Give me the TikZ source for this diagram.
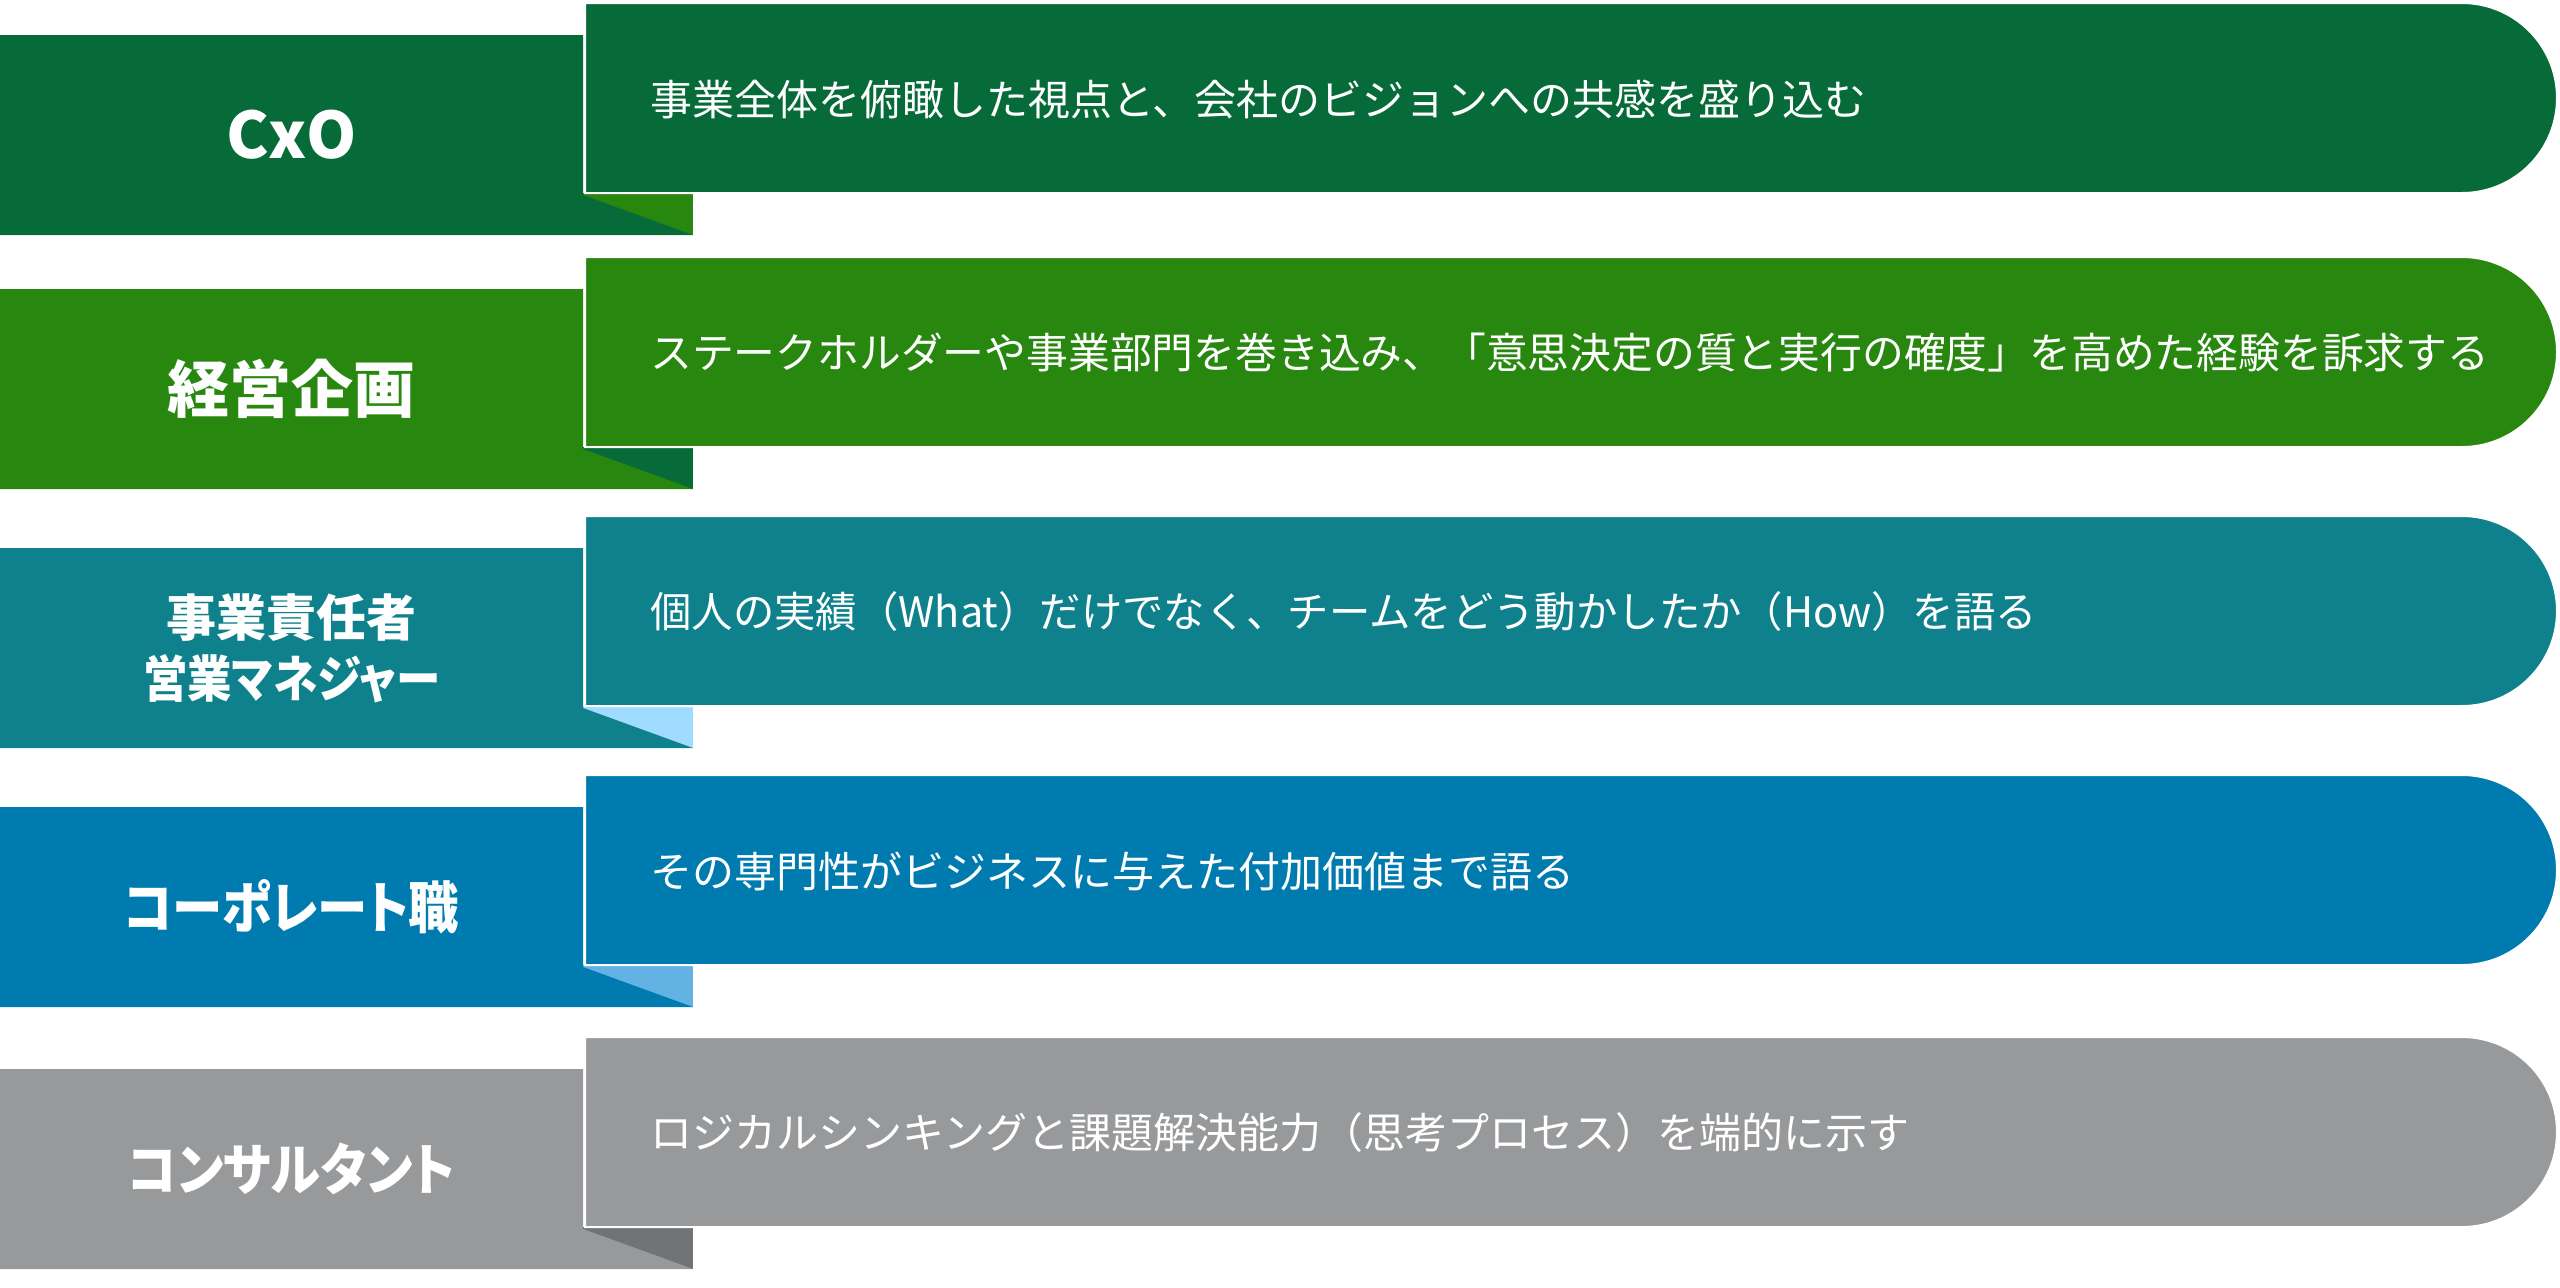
\documentclass[tikz,border=0pt]{standalone}
\usepackage{fontspec}
\setmainfont{Noto Sans CJK JP}
\newfontfamily\jplabel[RawFeature=+palt]{Noto Sans CJK JP}
\definecolor{cA}{HTML}{066B38}
\definecolor{cB}{HTML}{28870E}
\definecolor{cC}{HTML}{0F818C}
\definecolor{fC}{HTML}{A0DCFF}
\definecolor{cD}{HTML}{007BB0}
\definecolor{fD}{HTML}{62B3E3}
\definecolor{cE}{HTML}{98999B}
\definecolor{fE}{HTML}{717477}
\tikzset{
  bodytext/.style={anchor=west, text=white, font=\fontsize{21pt}{25pt}\selectfont, inner sep=0pt},
  labeltext/.style={text=white, align=center, inner sep=0pt},
}
% #1 top y, #2 main colour, #3 fold colour, #4 name
\newcommand{\ribbonrow}[4]{%
  \fill[#3] (583,#1+190) rectangle (693,#1+232);
  \fill[#2] (0,#1+32) -- (583,#1+32) -- (583,#1+192) -- (693,#1+232) -- (0,#1+232) -- cycle;
  \path[fill=#2, draw=white, line width=1pt] (585,#1) -- (2462,#1) arc[start angle=-90, end angle=90, radius=95] -- (585,#1+190) -- cycle;
  \coordinate (#4lab) at (291.5,#1+132);
  \coordinate (#4txt) at (650,#1+96);
}
\begin{document}
\begin{tikzpicture}[x=0.5pt,y=-0.5pt]
\useasboundingbox (0,0) rectangle (2560,1287);
\ribbonrow{3}{cA}{cB}{r1}
\ribbonrow{257}{cB}{cA}{r2}
\ribbonrow{516}{cC}{fC}{r3}
\ribbonrow{775}{cD}{fD}{r4}
\ribbonrow{1037}{cE}{fE}{r5}

\node[labeltext, font=\fontsize{32pt}{36pt}\selectfont\bfseries] (l1) at (r1lab) {CxO};
\node[labeltext, font=\jplabel\fontsize{31pt}{36pt}\selectfont\bfseries] (l2) at (r2lab) {経営企画};
\node[labeltext, font=\jplabel\fontsize{25pt}{30.5pt}\selectfont\bfseries] (l3) at (r3lab) {事業責任者\\\scalebox{0.89}[1]{営業マネジャー}};
\node[labeltext, font=\jplabel\fontsize{28pt}{34pt}\selectfont\bfseries] (l4) at (r4lab) {\scalebox{0.9}[1]{コーポレート職}};
\node[labeltext, font=\jplabel\fontsize{28pt}{34pt}\selectfont\bfseries] (l5) at (r5lab) {\scalebox{0.9}[1]{コンサルタント}};

\node[bodytext] (t1) at (r1txt) {事業全体を俯瞰した視点と、会社のビジョンへの共感を盛り込む};
\node[bodytext] (t2) at (r2txt) {\scalebox{0.995}[1]{ステークホルダーや事業部門を巻き込み、「意思決定の質と実行の確度」を高めた経験を訴求する}};
\node[bodytext] (t3) at (r3txt) {\scalebox{0.985}[1]{個人の実績（What）だけでなく、チームをどう動かしたか（How）を語る}};
\node[bodytext] (t4) at (r4txt) {その専門性がビジネスに与えた付加価値まで語る};
\node[bodytext] (t5) at (r5txt) {ロジカルシンキングと課題解決能力（思考プロセス）を端的に示す};
\end{tikzpicture}
\end{document}
